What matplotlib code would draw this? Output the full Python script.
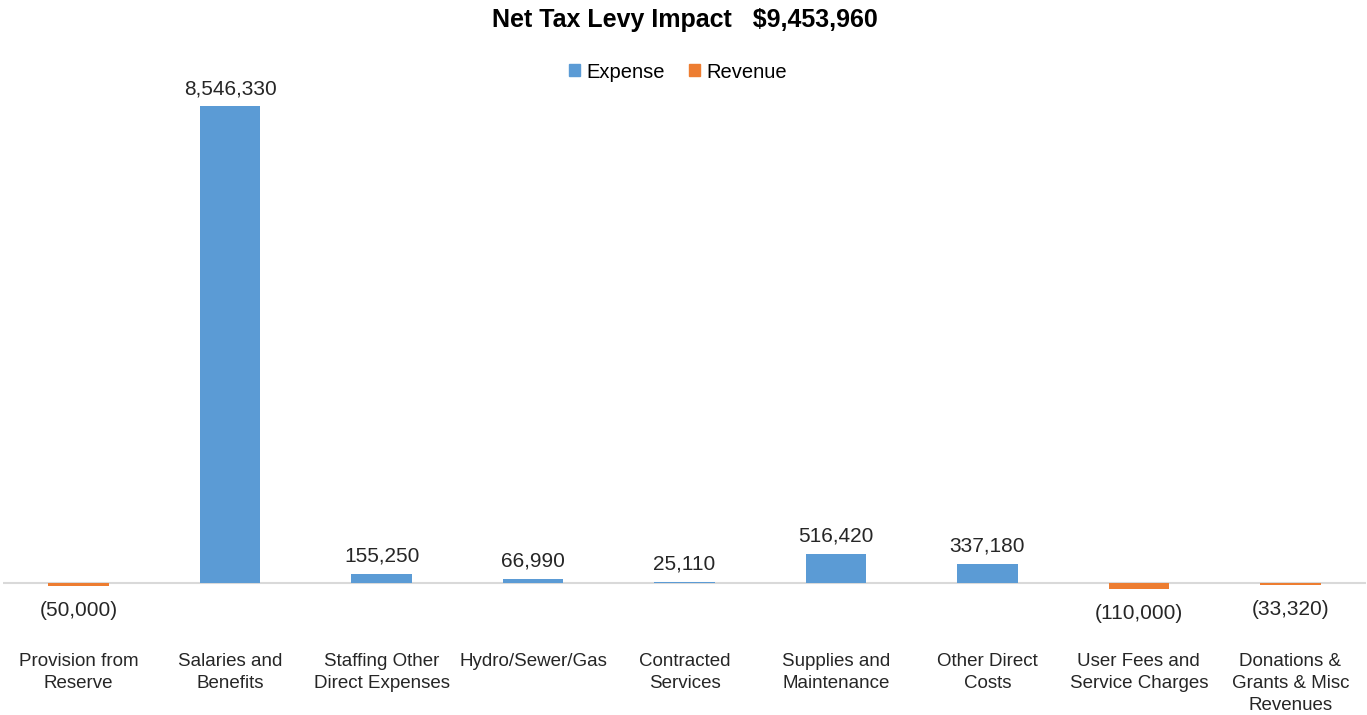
import numpy as np
import matplotlib
matplotlib.use('agg')
import matplotlib.pyplot as plt
from matplotlib.patches import Patch
import matplotlib.transforms as mtransforms

plt.rcParams['font.family'] = ['Liberation Sans', 'DejaVu Sans']

categories = ['Provision from\nReserve', 'Salaries and\nBenefits', 'Staffing Other\nDirect Expenses',
              'Hydro/Sewer/Gas', 'Contracted\nServices', 'Supplies and\nMaintenance',
              'Other Direct\nCosts', 'User Fees and\nService Charges', 'Donations &\nGrants & Misc\nRevenues']
values = [-50000, 8546330, 155250, 66990, 25110, 516420, 337180, -110000, -33320]
net_levy = 9453960

c_exp = '#5B9BD5'
c_rev = '#ED7D31'

fig = plt.figure(figsize=(13.67, 7.15), dpi=100)
ax = fig.add_axes([3/1367, 115/715, 1363/1367, 510/715])

x = np.arange(len(values))
cols = [c_exp if v >= 0 else c_rev for v in values]
ax.bar(x, values, width=0.4, color=cols, zorder=2)
ax.axhline(0, color='#D9D9D9', lw=1.5, zorder=1)

ax.set_xlim(-0.5, len(values) - 0.5)
ax.set_ylim(-305000, 8840000)
ax.axis('off')

for xi, v in zip(x, values):
    if v >= 0:
        ax.annotate(f'{v:,}', (xi, v), xytext=(0, 6), textcoords='offset points',
                    ha='center', va='bottom', fontsize=15, color='#262626')
    else:
        ax.annotate(f'({-v:,})', (xi, v), xytext=(0, -11), textcoords='offset points',
                    ha='center', va='top', fontsize=15, color='#262626')

trans = mtransforms.blended_transform_factory(ax.transData, fig.transFigure)
for xi, lab in zip(x, categories):
    ax.text(xi, 1 - 653/715, lab, transform=trans, ha='center', va='top',
            fontsize=13.5, color='#262626', linespacing=1.38)

fig.text(0.501, 1 - 20/715, 'Net Tax Levy Impact   ' + f'${net_levy:,}', ha='center', va='center',
         fontsize=18, fontweight='bold', color='black')

handles = [Patch(color=c_exp, label='Expense'), Patch(color=c_rev, label='Revenue')]
fig.legend(handles=handles, loc='center', bbox_to_anchor=(0.496, 1 - 72/715), ncol=2,
           frameon=False, fontsize=14.5, handlelength=0.55, handleheight=0.55,
           handletextpad=0.3, columnspacing=1.2)

fig.savefig('out.png', dpi=100)
